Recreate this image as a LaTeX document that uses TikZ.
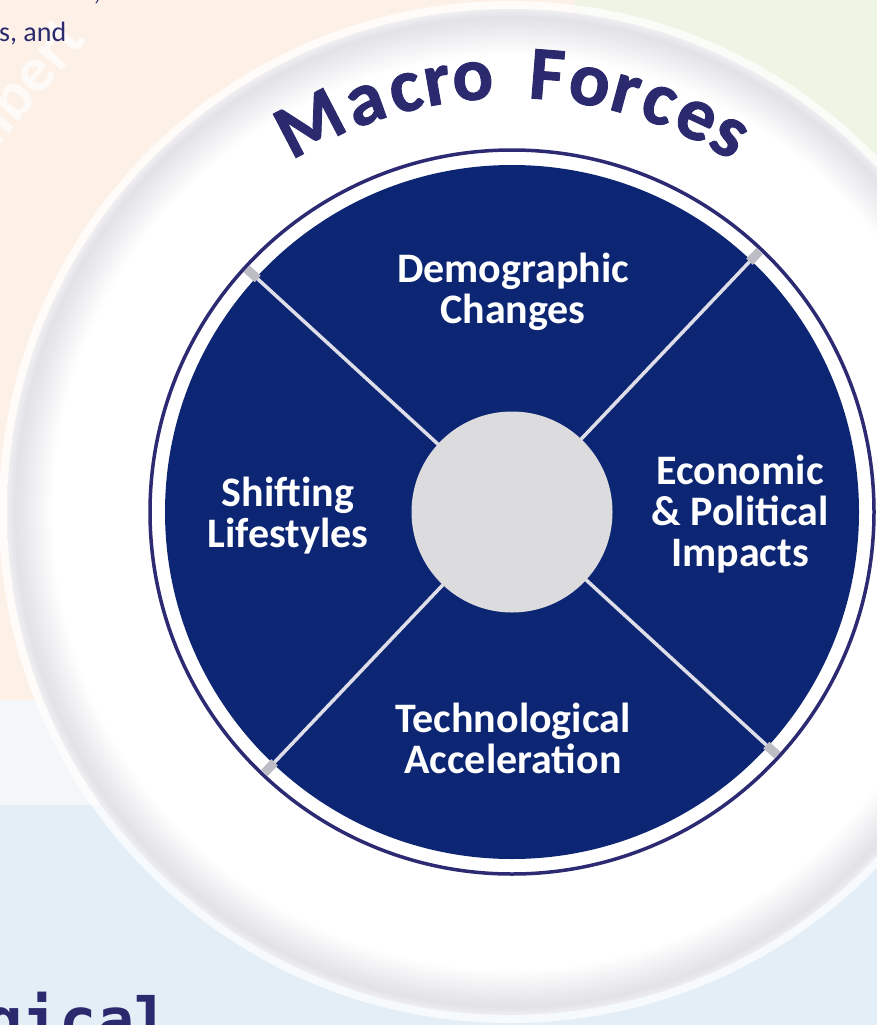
\documentclass[tikz,border=0pt]{standalone}
\usepackage{fontspec}
\setmainfont{Carlito}
\newfontfamily\monofam{DejaVu Sans Mono}
\newfontfamily\titlefam[FakeBold=1.2]{Carlito Bold}
\usetikzlibrary{calc}
\definecolor{peach}{HTML}{FDF0E6}
\definecolor{mint}{HTML}{EFF5E5}
\definecolor{paleband}{HTML}{F4F7F9}
\definecolor{paleblue}{HTML}{E3EEF7}
\definecolor{wheelblue}{HTML}{0D2674}
\definecolor{ringnavy}{HTML}{2C2A72}
\definecolor{titlenavy}{HTML}{2C2A6E}
\definecolor{hubgrey}{HTML}{DCDCDF}
\definecolor{rimgrey}{HTML}{E2E2E7}
\definecolor{rimedge}{HTML}{EFEFF2}
\definecolor{spoke}{HTML}{DEDEE9}
\definecolor{bevel}{HTML}{BDBDC6}
\pgfdeclareradialshading{rimshade}{\pgfpoint{0bp}{0bp}}{color(0bp)=(white); color(22.7bp)=(white); color(24.6bp)=(rimgrey); color(25bp)=(rimedge); color(50bp)=(rimedge)}
\begin{document}
\begin{tikzpicture}[x=1pt,y=1pt,
  segtext/.style={text=white, font=\bfseries\fontsize{42}{41}\selectfont, align=center, inner sep=0pt},
  arcletter/.style={text=titlenavy, font=\titlefam\fontsize{76}{76}\selectfont, inner sep=0pt, anchor=base},
  bgtext/.style={text=titlenavy, inner sep=0pt},
]
\useasboundingbox (0,0) rectangle (877,-1025);
% background panels
\fill[peach] (0,0) rectangle (575,-700);
\fill[mint] (575,0) rectangle (877,-700);
\fill[paleband] (0,-700) rectangle (877,-805);
\fill[paleblue] (0,-805) rectangle (877,-1025);
% background texts
\node[rotate=50, text=white, opacity=0.7, font=\bfseries\fontsize{64}{64}\selectfont, anchor=base west, inner sep=0pt] (wm) at (-30,-180) {Gilbert};
\node[bgtext, anchor=base west, font=\fontsize{28}{34}\selectfont] (frag) at (-1,-42) {s, and};
\node[bgtext, anchor=base, font=\fontsize{28}{34}\selectfont] (comma) at (97,-1) {,};
\node[bgtext, anchor=base west, font=\monofam\bfseries\fontsize{62}{62}\selectfont] (bottomword) at (-15,-1042) {gical};
% white disk
\coordinate (C) at (512,-512);
\fill[white, opacity=0.75] (510,-512) circle (511);
\shade[shading=rimshade] (510,-512) circle (503);
% wheel
\draw[ringnavy, line width=3.5] (C) circle (362);
\fill[wheelblue] (C) circle (347);
\foreach \a in {46.5,137.5,-133.5,-42.5} {
  \draw[spoke, line width=3.5] ($(C)+(\a:100)$) -- ($(C)+(\a:346)$);
  \draw[bevel, line width=9] ($(C)+(\a:345)$) -- ($(C)+(\a:360)$);
}
\node[circle, fill=hubgrey, minimum size=201, inner sep=0pt] (hub) at (C) {};
% segment labels
\node[segtext] (demo) at (513,-292) {Demographic\\Changes};
\node[segtext] (econ) at (740,-514) {Economic\\\& Political\\Impacts};
\node[segtext] (shift) at (288,-516) {Shifting\\Lifestyles};
\node[segtext] (tech) at (513,-738) {Technological\\Acceleration};
% curved title
\foreach \ch/\ang [count=\i] in {M/117.5, a/109.7, c/104.2, r/99.9, o/95.2, F/85.4, o/79.7, r/74.8, c/70.2, e/64.9, s/60.0} {
  \pgfmathsetmacro\rot{\ang-90}
  \node[arcletter, rotate=\rot] (t\i) at ($(C)+(\ang:414)$) {\ch};
}
\end{tikzpicture}
\end{document}
